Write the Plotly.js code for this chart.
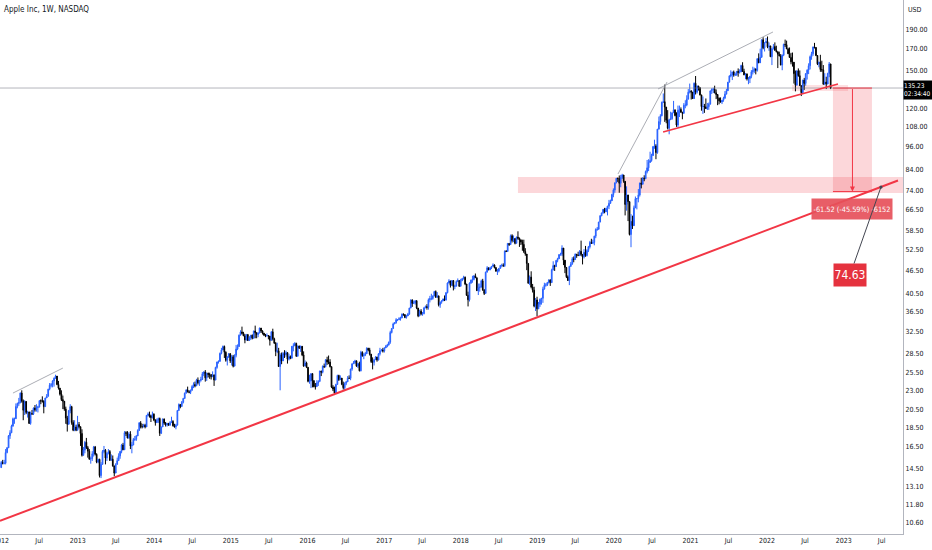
<!DOCTYPE html>
<html><head><meta charset="utf-8">
<script src="https://cdn.plot.ly/plotly-3.0.1.min.js"></script>
<style>html,body{margin:0;padding:0;background:#fff}#chart{width:932px;height:550px}</style>
</head><body><div id="chart"></div>
<script>
// ---- data: Apple Inc weekly candles (week starting Monday) ----
const firstWeek = '2012-01-02';
const firstOpen = 14.62;
const weekClose = [
// 2012
15.07,14.99,15.01,15.97,16.42,17.62,17.93,18.64,19.47,19.47,20.91,21.29,21.41,22.63,21.61,20.46,21.54,20.19,20.25,18.94,20.08,20.04,20.73,20.50,20.79,20.86,21.64,21.60,21.58,20.90,21.99,22.20,23.15,23.69,23.76,24.30,24.69,25.00,23.80,23.30,22.49,21.78,21.57,20.60,19.54,18.85,20.41,20.90,19.04,18.21,18.55,18.20,18.82,
// 2013
18.58,17.86,15.71,16.20,16.96,16.43,16.10,15.37,15.42,15.85,16.50,15.81,15.11,15.35,13.95,14.90,16.07,16.18,15.47,15.90,16.06,15.26,15.36,14.77,14.16,14.90,15.23,15.66,16.08,16.69,16.23,17.94,17.89,17.40,17.79,16.60,16.69,17.24,17.25,17.60,18.17,19.00,18.59,18.59,18.75,18.56,19.86,20.00,19.80,19.60,20.00,19.32,
// 2014
19.03,19.31,19.50,17.88,18.56,19.43,18.98,18.79,18.94,18.74,19.03,19.17,18.68,18.56,18.75,20.43,21.16,20.91,21.43,21.93,22.61,23.06,22.82,22.73,23.00,23.51,23.80,23.60,24.42,24.03,24.37,24.50,25.33,25.62,24.74,25.42,25.24,25.19,24.90,25.18,24.42,26.30,27.15,27.25,28.55,29.12,29.73,28.75,27.43,27.95,28.50,27.33,
// 2015
28.00,26.50,28.25,29.29,29.73,31.77,32.38,32.11,31.65,30.90,31.87,30.81,31.33,31.77,31.19,32.57,32.24,31.90,32.19,33.13,32.57,32.16,31.79,31.65,31.69,31.61,30.82,32.40,31.12,30.32,28.88,28.99,26.44,28.32,27.32,28.55,28.36,28.68,27.60,28.03,27.76,29.77,29.87,30.27,28.08,29.83,29.45,29.76,28.30,26.51,27.00,26.32,
// 2016
24.24,24.28,25.36,24.34,23.50,23.50,24.01,24.23,25.75,25.57,26.48,26.42,27.50,27.16,27.14,26.42,23.43,23.18,22.63,23.80,25.09,24.48,24.71,23.83,23.35,23.97,24.17,24.70,24.67,26.05,26.87,27.05,27.34,26.50,26.93,25.78,28.73,28.18,28.26,28.52,29.41,29.15,28.43,27.21,27.11,27.52,27.95,27.48,28.49,28.99,29.13,28.96,
// 2017
29.48,29.76,30.00,30.49,32.27,33.03,33.93,34.17,34.79,34.79,35.00,35.16,35.92,35.84,35.26,35.57,35.91,37.24,39.03,38.27,38.40,38.86,37.25,35.57,36.57,36.00,36.04,37.26,37.57,37.38,39.10,39.37,39.38,39.97,41.01,39.66,39.97,37.97,38.53,38.83,39.25,39.06,40.76,43.13,43.67,42.54,43.74,42.25,42.34,43.49,43.75,42.31,
// 2018
43.75,44.27,44.62,42.88,40.13,39.10,43.11,43.88,44.05,45.00,44.50,41.24,41.95,42.10,43.68,41.43,40.58,45.96,47.15,46.58,47.15,47.56,47.93,47.21,46.23,46.28,46.99,47.83,47.86,47.75,52.00,51.88,54.40,54.04,56.91,55.33,55.96,54.42,56.44,56.07,55.53,54.83,54.08,51.87,51.12,48.38,43.07,44.65,42.12,41.37,37.68,39.06,37.07,
// 2019
38.07,39.20,39.44,41.63,42.60,42.60,43.24,43.88,43.23,46.53,47.76,47.49,49.25,49.72,50.97,51.08,52.94,49.30,47.25,44.74,43.77,47.54,48.19,49.70,49.48,51.06,50.83,50.65,51.94,51.00,50.25,51.63,50.66,52.19,53.31,54.69,54.43,54.71,56.75,59.05,59.10,61.65,63.96,65.04,66.44,65.45,66.81,67.68,68.79,69.86,72.45,74.36,
// 2020
77.58,79.68,79.58,77.38,80.01,81.24,78.26,68.34,72.26,69.49,57.31,61.94,60.35,67.00,70.70,70.74,72.27,77.53,76.93,79.72,79.49,82.88,84.70,87.43,88.41,91.03,95.92,96.33,92.62,106.26,111.11,114.91,124.37,124.81,120.96,112.00,106.84,112.28,113.02,116.97,119.02,115.04,108.86,118.69,119.26,117.34,116.59,122.25,122.41,126.66,131.97,132.69,
// 2021
132.05,127.14,139.07,131.96,136.76,135.37,129.87,121.26,121.42,121.03,119.99,121.21,123.00,133.00,134.16,134.32,131.46,130.21,127.45,125.43,124.61,125.89,127.35,130.46,133.11,139.96,145.11,146.39,148.56,145.86,146.14,149.10,148.19,148.60,154.30,148.97,146.06,146.92,142.65,142.90,144.84,148.69,149.80,151.28,149.99,160.55,156.81,161.84,179.45,171.14,176.28,177.57,
// 2022
172.17,173.07,162.41,170.33,172.39,168.64,167.30,164.85,163.17,154.73,163.98,174.72,174.31,170.09,165.29,161.79,157.65,157.28,147.11,137.59,149.64,145.38,137.13,131.56,141.66,138.93,147.04,150.17,154.09,162.51,165.35,172.10,171.52,163.62,155.81,157.37,150.70,150.43,138.20,140.09,138.38,147.27,155.74,135.23
];
const weekHigh = [
// 2012
15.2,15.3,15.3,16.3,16.5,17.7,18.2,18.8,19.6,19.6,21.3,21.4,22.0,22.7,23.0,21.8,21.7,21.4,20.4,20.3,20.3,20.5,20.8,21.1,21.2,21.0,21.7,21.8,22.2,21.7,22.0,22.5,23.2,24.0,24.0,24.4,24.8,25.2,24.9,24.3,23.3,23.0,22.3,21.4,20.9,19.8,20.5,21.2,21.0,19.3,19.3,18.8,19.8,
// 2013
19.1,18.6,18.3,16.5,17.1,17.4,16.6,16.3,15.6,16.1,16.6,16.6,15.9,15.4,15.4,15.1,16.2,16.6,16.3,16.0,16.3,16.2,15.8,15.7,14.7,15.0,15.5,15.9,16.1,16.8,16.9,18.1,18.1,18.1,18.0,18.1,17.0,17.4,17.6,17.7,18.3,19.1,19.2,18.9,18.9,18.9,19.9,20.2,20.3,19.9,20.3,20.1,
// 2014
19.4,19.5,19.6,19.6,18.6,19.5,19.5,19.1,19.0,19.0,19.2,19.7,19.3,18.9,18.9,20.5,21.3,21.2,21.6,22.0,22.7,23.1,23.5,23.0,23.1,23.7,24.1,24.2,24.6,24.8,24.4,24.9,25.6,25.7,25.9,25.5,25.5,25.5,25.3,25.7,25.2,26.4,27.2,27.4,28.7,29.5,29.9,29.9,28.9,28.1,28.6,28.6,
// 2015
28.3,28.3,28.4,30.0,30.1,31.9,32.7,33.4,32.4,32.0,32.0,32.0,31.6,31.8,31.9,32.6,33.6,32.3,32.3,33.2,33.1,32.7,32.1,32.0,32.1,31.8,31.6,32.5,33.0,31.3,30.5,30.4,29.5,28.6,28.7,28.8,29.1,29.0,28.6,28.5,28.2,29.8,30.3,30.5,30.4,29.9,29.8,29.9,29.5,28.9,27.4,27.2,
// 2016
26.3,25.2,25.4,25.2,24.3,24.0,24.4,24.4,25.8,25.8,26.6,26.9,27.6,28.0,28.2,27.6,26.4,23.7,23.5,23.9,25.2,25.2,25.1,24.7,24.2,24.1,24.3,25.0,25.1,26.1,26.9,27.3,27.5,27.2,27.0,27.2,29.0,28.9,28.6,28.8,29.6,29.5,29.5,28.4,27.9,27.6,28.1,28.0,28.6,29.5,29.3,29.5,
// 2017
29.6,30.0,30.2,30.6,32.6,33.1,34.2,34.3,35.1,34.9,35.3,35.4,36.1,36.1,35.8,35.8,36.2,37.3,39.2,39.2,38.9,39.0,39.0,37.2,36.9,37.0,36.4,37.5,37.8,38.1,39.4,40.0,40.5,40.1,41.2,41.3,40.9,40.1,38.7,39.0,39.4,40.1,40.9,43.3,44.1,43.5,43.9,43.9,42.7,43.8,44.3,43.6,
// 2018
44.2,44.3,45.0,44.8,42.9,41.0,43.3,44.0,45.0,45.1,45.6,44.5,43.0,43.0,44.0,44.2,41.6,46.1,47.6,47.1,47.4,47.6,48.4,48.1,47.3,46.8,47.1,47.9,48.3,48.4,52.2,52.3,54.5,54.3,57.3,57.4,57.0,56.1,56.6,58.4,56.3,55.7,55.6,55.6,52.9,51.1,48.4,45.1,46.2,42.9,42.2,39.5,39.8,
// 2019
38.6,39.4,39.5,42.2,43.2,43.1,43.4,44.1,44.1,46.9,49.0,48.0,49.3,50.0,51.0,51.5,53.8,52.2,48.4,47.1,45.1,47.7,48.8,50.2,50.4,51.3,51.0,51.8,52.3,55.3,50.9,52.6,53.6,52.6,53.6,55.2,55.9,55.6,56.9,59.4,59.9,61.7,64.2,65.1,66.5,67.0,67.0,67.8,70.2,70.3,72.8,75.1,
// 2020
77.7,79.8,80.0,81.0,81.3,81.8,81.1,75.4,76.0,72.3,64.8,64.6,64.0,67.9,71.6,70.8,74.8,77.6,79.9,80.2,81.1,83.4,88.7,89.1,93.1,92.0,96.3,99.9,97.3,106.4,114.4,116.0,124.9,131.0,138.0,119.0,118.8,112.9,117.7,117.0,125.4,119.0,117.3,122.0,122.0,120.7,117.6,123.8,125.9,129.6,134.4,138.8,
// 2021
133.6,131.0,139.7,145.1,137.4,137.0,136.0,128.7,128.7,123.2,127.2,123.9,124.2,133.1,135.0,135.5,137.1,134.1,129.5,127.9,128.0,126.0,128.5,132.8,134.6,140.0,145.7,150.0,148.7,149.8,148.0,149.4,151.7,150.9,155.0,157.3,151.4,147.4,147.0,144.2,144.9,150.2,153.2,152.4,151.6,161.0,165.7,170.3,179.6,182.1,176.8,181.3,
// 2022
182.9,176.6,172.5,170.4,175.0,176.7,173.3,165.1,167.4,165.0,164.5,175.3,179.6,178.5,171.3,171.5,166.2,166.5,156.7,149.8,149.7,151.7,149.9,137.3,141.9,143.5,147.6,150.9,156.3,163.6,167.2,172.2,176.2,171.1,162.6,157.8,164.3,158.7,154.7,147.5,144.5,147.9,157.5,155.5
];
const weekLow = [
// 2012
14.6,14.9,14.9,14.9,15.9,16.4,17.3,17.9,18.6,18.9,19.5,20.7,21.0,21.3,21.4,19.3,19.9,20.0,19.6,18.9,18.8,19.9,19.9,20.3,20.3,20.2,20.8,21.2,21.4,20.1,20.9,22.0,22.2,23.0,23.4,23.4,23.5,24.6,23.7,23.1,22.3,21.6,20.6,20.4,18.9,18.06,19.2,20.1,18.8,18.1,18.1,18.1,18.6,
// 2013
18.4,16.6,15.6,15.8,15.9,16.3,15.5,15.3,14.96,15.2,15.6,15.7,15.0,15.0,13.8,13.75,14.9,15.9,14.9,15.2,15.8,15.2,15.3,14.7,13.9,14.3,14.9,15.2,15.4,15.9,16.2,16.4,17.6,17.35,17.3,16.3,15.9,16.7,17.1,17.1,17.6,18.2,18.4,18.4,18.5,18.4,18.7,19.7,19.6,19.1,19.5,19.2,
// 2014
18.7,19.0,19.0,17.6,17.8,18.6,18.8,18.6,18.6,18.7,18.8,19.0,18.6,18.5,18.3,18.8,20.4,20.7,20.9,21.3,22.0,22.6,22.7,22.6,22.5,23.1,23.3,23.4,23.6,23.8,23.6,24.2,24.6,25.0,24.2,24.3,24.8,24.6,24.5,24.9,23.6,24.6,26.1,26.9,27.3,28.4,29.1,27.8,27.2,26.6,27.8,27.0,
// 2015
26.6,26.3,26.9,27.9,29.1,29.8,31.7,31.9,31.6,30.3,30.8,30.7,30.7,30.9,31.0,31.2,31.2,31.2,31.4,32.1,32.2,31.9,31.6,31.4,31.5,31.0,29.9,31.0,30.8,30.2,28.1,28.6,26.4,23.0,26.8,27.4,27.8,28.0,26.9,27.4,27.6,27.9,28.9,29.8,28.0,28.1,29.3,28.8,28.1,26.4,26.5,26.2,
// 2016
24.1,23.9,23.3,23.4,23.4,23.1,23.5,23.6,24.2,25.0,25.4,26.2,26.3,26.7,26.8,26.3,23.3,22.9,22.37,22.8,23.8,24.3,24.5,23.7,23.1,22.9,23.7,24.2,24.6,24.4,25.8,26.9,26.8,26.4,26.2,25.7,25.7,28.0,27.6,28.1,28.6,28.9,28.2,27.0,26.0,26.6,27.6,27.2,27.4,28.2,28.9,28.7,
// 2017
28.7,29.5,29.6,29.9,30.2,32.1,33.0,33.9,34.0,34.5,34.7,34.6,35.1,35.6,35.1,35.0,35.8,36.0,37.3,37.5,38.2,38.0,37.0,35.3,35.5,35.7,35.6,35.9,37.3,36.9,36.9,38.5,39.0,39.1,40.0,39.6,39.6,37.6,37.3,38.2,38.8,38.8,38.9,40.6,43.0,42.0,42.4,41.3,41.6,42.4,43.5,42.2,
// 2018
42.3,43.6,44.0,42.6,40.0,37.6,38.7,42.9,43.2,43.8,44.4,41.2,40.2,41.0,42.4,41.2,40.2,40.9,46.3,46.5,46.5,46.8,47.6,47.0,46.1,45.2,45.9,47.0,47.3,47.4,47.4,51.7,51.9,53.6,54.4,54.7,54.8,54.1,54.4,55.6,53.3,53.9,52.1,51.4,50.6,46.5,43.0,42.6,41.8,40.8,37.4,36.6,35.5,
// 2019
37.2,37.5,38.0,38.4,41.5,42.2,42.4,43.0,42.4,43.5,46.5,46.3,47.6,48.7,49.7,50.6,50.5,47.9,45.7,44.4,43.7,42.6,47.6,48.0,48.7,50.2,50.0,50.6,51.1,50.5,48.1,49.8,50.3,50.4,51.7,52.8,54.3,54.2,53.8,56.1,58.6,59.3,61.6,63.8,64.7,64.9,65.6,64.1,66.5,69.0,70.6,71.3,
// 2020
73.2,77.4,78.0,73.2,75.6,79.3,77.6,64.1,65.9,62.0,57.0,53.2,59.2,62.3,67.6,66.4,69.2,71.6,75.1,77.6,78.3,79.3,82.0,83.1,87.2,87.8,92.5,94.7,89.1,92.0,106.3,109.1,114.6,123.9,110.9,110.0,106.1,103.1,112.2,112.3,118.2,114.6,107.7,107.3,114.1,117.0,112.6,116.8,120.1,121.5,126.7,131.0,
// 2021
126.4,126.9,126.9,130.2,130.9,133.2,129.5,118.4,116.2,116.9,119.6,118.9,119.0,123.2,130.6,131.3,131.1,126.7,122.3,122.9,124.2,123.1,124.8,127.1,130.5,133.4,140.1,144.0,141.7,144.5,145.2,145.3,144.5,147.2,148.6,148.7,145.8,142.4,141.3,138.3,139.2,143.2,146.4,147.8,146.5,148.9,156.4,157.8,164.2,169.7,167.5,176.3,
// 2022
170.8,168.2,162.3,154.7,169.5,168.4,166.6,152.0,162.9,154.5,150.1,163.0,172.0,169.9,165.0,161.5,155.4,153.3,138.8,132.6,137.1,144.5,137.0,129.0,133.3,133.8,137.1,142.1,146.7,150.8,159.6,163.3,170.5,163.0,154.7,152.7,148.7,148.6,138.0,138.0,134.4,140.3,144.1,134.4
];

// ---- axis labels ----
const priceTicks = [190,170,150,120,108,96,84,74,66.5,58.5,52.5,46.5,40.5,36.5,32.5,28.5,25.5,23,20.5,18.5,16.5,14.5,13.1,11.8,10.6];
const timeTickDates = ['2012-01-01','2012-07-01','2013-01-01','2013-07-01','2014-01-01','2014-07-01','2015-01-01','2015-07-01','2016-01-01','2016-07-01','2017-01-01','2017-07-01','2018-01-01','2018-07-01','2019-01-01','2019-07-01','2020-01-01','2020-07-01','2021-01-01','2021-07-01','2022-01-01','2022-07-01','2023-01-01','2023-07-01'];
const timeTickLabels = ['2012','Jul','2013','Jul','2014','Jul','2015','Jul','2016','Jul','2017','Jul','2018','Jul','2019','Jul','2020','Jul','2021','Jul','2022','Jul','2023','Jul'];

// ---- texts ----
const chartTitle = 'Apple Inc, 1W, NASDAQ';
const currency = 'USD';
const lastPrice = 135.23;
const countdown = '02:34:40';
const targetPrice = 74.63;
const rangeLabel = '-61.52 (-45.59%) -6152';
const rangeBottom = 73.71;

// ---- build candles ----
const dates = [];
const opens = [];
const t0 = Date.parse(firstWeek + 'T00:00:00Z');
for (let i = 0; i < weekClose.length; i++) {
  dates.push(new Date(t0 + i * 7 * 86400000).toISOString().slice(0, 10));
  opens.push(i === 0 ? firstOpen : weekClose[i - 1]);
}

const FONT = "'Liberation Sans Narrow', 'DejaVu Sans Condensed', Roboto, sans-serif";
const RED = '#f23645';
const PINK = 'rgba(242,54,69,0.2)';
const GRAY = '#9598a1';
const xRange = ['2011-12-27 05:00', '2023-10-11'];

const trace = {
  type: 'candlestick', x: dates, open: opens, high: weekHigh, low: weekLow, close: weekClose,
  increasing: {line: {color: '#2962ff', width: 1}, fillcolor: '#2962ff'},
  decreasing: {line: {color: '#000000', width: 1}, fillcolor: '#000000'},
  whiskerwidth: 0, hoverinfo: 'skip', showlegend: false
};

function seg(x0, y0, x1, y1, color, width) {
  return {type: 'line', xref: 'x', yref: 'y', x0, y0, x1, y1, line: {color, width}, layer: 'above'};
}
function box(x0, y0, x1, y1, fill) {
  return {type: 'rect', xref: 'x', yref: 'y', x0, y0, x1, y1, fillcolor: fill, line: {width: 0}, layer: 'below'};
}

const shapes = [
  box('2018-10-01', 73.1, xRange[1], 80.3, PINK),
  box('2022-04-30', 132.9, '2023-01-22', 137.6, 'rgba(242,54,69,0.15)'),
  box('2022-11-11', rangeBottom, '2023-05-16', lastPrice, PINK),
  seg(xRange[0], lastPrice, xRange[1], lastPrice, 'rgba(120,123,134,0.7)', 0.8),
  seg('2022-11-11', lastPrice, '2023-05-16', lastPrice, RED, 1),
  seg('2022-11-11', rangeBottom, '2023-05-16', rangeBottom, RED, 1),
  seg('2011-12-27 05:00', 10.70, '2023-09-17', 78.65, RED, 2),
  seg('2020-08-23', 104.5, '2022-12-05', 138.4, RED, 1.6),
  seg('2012-02-27', 22.63, '2012-10-22', 26.2, GRAY, 0.8),
  seg('2020-01-21', 81.7, '2020-09-11', 140.1, GRAY, 0.8),
  seg('2020-07-30', 134.5, '2022-01-29', 187.8, GRAY, 0.8)
];

const L = Math.log10;
const annotations = [
  {xref: 'paper', yref: 'paper', x: 0, y: 1, xanchor: 'left', yanchor: 'top', xshift: 2, yshift: -3,
   text: chartTitle, showarrow: false, font: {family: FONT, size: 8, color: '#131722'}},
  {xref: 'paper', yref: 'paper', x: 1, y: 1, xanchor: 'left', yanchor: 'top', xshift: 3, yshift: -4,
   text: currency, showarrow: false, font: {family: FONT, size: 7, color: '#131722'}},
  {xref: 'paper', yref: 'y', x: 1, y: L(lastPrice), xanchor: 'left', yanchor: 'middle', yshift: -2,
   text: lastPrice.toFixed(2) + '<br>' + countdown, showarrow: false, bgcolor: '#000000', borderpad: 0,
   width: 28, height: 18, align: 'left', font: {family: FONT, size: 6.5, color: '#ffffff'}},
  {xref: 'x', yref: 'y', x: '2023-02-12', y: L(rangeBottom), ax: 0, ay: -104, text: '', showarrow: true,
   arrowhead: 2, arrowsize: 1, arrowwidth: 1, arrowcolor: RED, standoff: 0},
  {xref: 'x', yref: 'y', x: '2023-02-12', y: L(66.75), text: rangeLabel, showarrow: false,
   bgcolor: 'rgba(230,80,90,0.92)', width: 80, height: 20, borderpad: 0,
   font: {family: FONT, size: 7.3, color: '#ffffff'}},
  {xref: 'x', yref: 'y', x: '2023-06-28', y: L(75.7), ax: -31, ay: 88, text: targetPrice.toFixed(2),
   showarrow: true, arrowhead: 6, arrowsize: 0.8, arrowwidth: 1, arrowcolor: '#434651', standoff: 0,
   bgcolor: '#e5323e', width: 32, height: 22, borderpad: 0,
   font: {family: FONT, size: 12, color: '#ffffff'}}
];

const layout = {
  width: 932, height: 550,
  margin: {l: 0, r: 29, t: 0, b: 16, pad: 0},
  paper_bgcolor: '#ffffff', plot_bgcolor: '#ffffff',
  showlegend: false,
  font: {family: FONT, color: '#131722', size: 7},
  xaxis: {
    type: 'date', range: xRange, showgrid: false, zeroline: false,
    showline: true, linecolor: '#b2b5be', linewidth: 1,
    tickmode: 'array', tickvals: timeTickDates, ticktext: timeTickLabels,
    ticks: '', tickfont: {family: FONT, size: 7, color: '#131722'},
    ticklabeloverflow: 'allow', rangeslider: {visible: false}, fixedrange: true
  },
  yaxis: {
    type: 'log', side: 'right', range: [0.9960, 2.3551], showgrid: false, zeroline: false,
    showline: true, linecolor: '#b2b5be', linewidth: 1,
    tickmode: 'array', tickvals: priceTicks, ticktext: priceTicks.map(v => v.toFixed(2)),
    ticks: '', tickfont: {family: FONT, size: 7, color: '#131722'}, fixedrange: true
  },
  shapes, annotations
};

Plotly.newPlot('chart', [trace], layout, {displayModeBar: false, staticPlot: true});
</script>
</body></html>
